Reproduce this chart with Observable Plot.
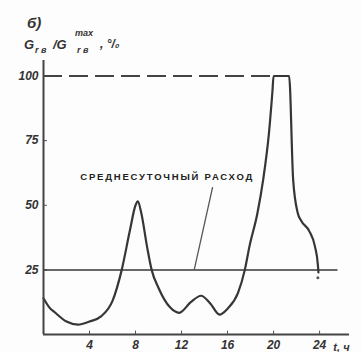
<!DOCTYPE html>
<html>
<head>
<meta charset="utf-8">
<script src="https://cdn.jsdelivr.net/npm/d3@7"></script>
<script src="https://cdn.jsdelivr.net/npm/@observablehq/plot@0.6"></script>
<style>
  html, body { margin: 0; padding: 0; background: #fdfdfd; }
  #wrap { position: relative; width: 361px; height: 352px; overflow: hidden; }
  #wrap svg { position: absolute; left: 0; top: 0; }
  .lbl { position: absolute; font-family: "Liberation Sans", "DejaVu Sans", sans-serif; font-style: italic; font-weight: bold; color: #333; white-space: nowrap; line-height: 1; }
</style>
</head>
<body>
<div id="wrap">
  <div class="lbl" style="left:27px; top:15px; font-size:15px;">б)</div>
  <div class="lbl" style="left:24px; top:38px; font-size:13px;">G</div>
  <div class="lbl" style="left:35px; top:46px; font-size:9px;">r в</div>
  <div class="lbl" style="left:53px; top:38px; font-size:13px;">/G</div>
  <div class="lbl" style="left:75px; top:29px; font-size:9px;">max</div>
  <div class="lbl" style="left:77px; top:46px; font-size:9px;">r в</div>
  <div class="lbl" style="left:100px; top:38px; font-size:12px;">, °/₀</div>
</div>
<script>
// Hourly relative consumption curve (hours, % of max)
const hours = [0, 0.5, 1, 2, 3, 4, 5, 6, 6.8, 7.5, 8.0, 8.2, 8.5, 9, 9.4, 10, 11, 11.8, 12.8, 13.7, 14.5, 15.3, 16, 16.9, 17.5, 17.9, 18.6, 19.1, 19.6, 19.9, 20.0, 21.35, 21.7, 22.1, 22.4, 23.1, 23.6, 23.85, 23.9];
const shareValues = [14, 10.5, 8.5, 5, 3.8, 5, 7, 13, 25, 40, 50, 51.5, 47, 34, 25, 18, 10.5, 8.4, 12.5, 15, 12, 7.7, 10, 16, 25, 34, 47, 60, 78, 94, 100, 100, 60, 47, 44, 40, 34, 27, 24];
const yTicks = [25, 50, 75, 100];
const xTicks = [4, 8, 12, 16, 20, 24];
const averageLevel = [25];
const maxLevel = [100];
const maxLevelEnd = [20];
const annotationText = ["СРЕДНЕСУТОЧНЫЙ РАСХОД"];
const annotationAt = [3.2, 61];
const leaderFrom = [14.7, 57];
const leaderTo = [13.1, 25];
const endDot = [23.85, 22];
const xAxisTitle = ["t, ч"];

const curve = hours.map((h, i) => ({h, v: shareValues[i]}));
const ink = "#363636";
const font = "Liberation Sans, DejaVu Sans, sans-serif";

const chart = Plot.plot({
  width: 361,
  height: 352,
  marginLeft: 43,
  marginRight: 12,
  marginTop: 60,
  marginBottom: 18,
  style: {background: "transparent", fontFamily: font, fontStyle: "italic", fontWeight: "bold", fontSize: "11px", color: "#333"},
  x: {domain: [0, 26.6]},
  y: {domain: [0, 106]},
  marks: [
    Plot.axisY({ticks: yTicks, tickSize: 0, tickPadding: 5, label: null, fontSize: 12}),
    Plot.axisX({ticks: xTicks, tickSize: 0, tickPadding: 6, label: null, fontSize: 12}),
    Plot.ruleY(yTicks, {x1: 0, x2: 0.35, stroke: "#555", strokeWidth: 1}),
    Plot.ruleX(xTicks, {y1: 0, y2: 1.3, stroke: "#555", strokeWidth: 1}),
    Plot.ruleY(averageLevel, {x1: 0, x2: 25.6, stroke: ink, strokeWidth: 1.5}),
    Plot.ruleY(maxLevel, {x1: 0, x2: maxLevelEnd[0], stroke: "#444", strokeWidth: 2, strokeDasharray: "19,7"}),
    Plot.line(curve, {x: "h", y: "v", curve: "monotone-x", stroke: ink, strokeWidth: 2.2}),
    Plot.link([{x1: leaderFrom[0], y1: leaderFrom[1], x2: leaderTo[0], y2: leaderTo[1]}], {x1: "x1", y1: "y1", x2: "x2", y2: "y2", stroke: "#555", strokeWidth: 1.3}),
    Plot.dot([endDot], {x: d => d[0], y: d => d[1], r: 1.5, fill: "#555", stroke: "none"}),
    Plot.text(annotationText, {x: annotationAt[0], y: annotationAt[1], text: d => d, textAnchor: "start", fontSize: 9.5, fontStyle: "normal", fontWeight: "bold", fill: "#222"}),
    Plot.text(xAxisTitle, {x: 25.9, y: 0, text: d => d, dy: 13, fontSize: 11, fill: "#333"}),
    Plot.ruleY([0], {x1: 0, x2: 26.6, stroke: "#444", strokeWidth: 2}),
    Plot.ruleX([0], {y1: 0, y2: 106, stroke: "#444", strokeWidth: 2})
  ]
});
document.getElementById("wrap").prepend(chart);
// stretch the annotation label to its printed width
d3.select(chart).selectAll("text")
  .filter(function () { return this.textContent === annotationText[0]; })
  .attr("textLength", 172)
  .attr("lengthAdjust", "spacing");
</script>
</body>
</html>
